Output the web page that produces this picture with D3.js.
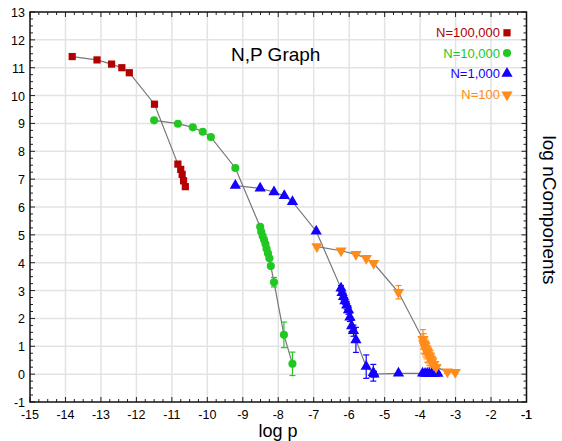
<!DOCTYPE html>
<html>
<head>
<meta charset="utf-8">
<title>N,P Graph</title>
<style>
body { margin: 0; background: #fff; }
text { font-family: "Liberation Sans", Arial, Helvetica, sans-serif; }
</style>
</head>
<body>
<div id="graphic"></div>
<script src="https://cdn.jsdelivr.net/npm/d3@7/dist/d3.min.js"></script>
<script>
var w = 562, h = 441;

// N=100,000
var redX = [-13.81, -13.11, -12.70, -12.41, -12.20, -11.49, -10.83, -10.75, -10.71, -10.67, -10.62];
var redY = [11.40, 11.28, 11.13, 11.00, 10.82, 9.69, 7.54, 7.35, 7.17, 6.94, 6.73];
var redE = [0, 0, 0, 0, 0, 0, 0, 0, 0, 0, 0];

// N=10,000
var greenX = [-11.50, -10.83, -10.41, -10.13, -9.90, -9.21, -8.51, -8.48, -8.44, -8.40, -8.36, -8.33, -8.29, -8.25, -8.21, -8.12, -7.84, -7.60];
var greenY = [9.11, 8.99, 8.86, 8.70, 8.51, 7.40, 5.29, 5.11, 4.96, 4.82, 4.67, 4.50, 4.34, 4.16, 3.88, 3.30, 1.41, 0.37];
var greenE = [0, 0, 0, 0, 0, 0, 0, 0, 0, 0, 0, 0, 0, 0, 0, 0.17, 0.46, 0.42];

// N=1,000
var blueX = [-9.21, -8.51, -8.12, -7.83, -7.60, -6.93, -6.23, -6.20, -6.16, -6.12, -6.07, -6.02, -5.98, -5.93, -5.88, -5.81, -5.52, -5.32, -5.30, -4.61, -3.93, -3.86, -3.80, -3.74, -3.67, -3.60, -3.50];
var blueY = [6.77, 6.67, 6.54, 6.40, 6.19, 5.13, 3.08, 2.92, 2.78, 2.63, 2.47, 2.30, 2.04, 1.73, 1.56, 1.23, 0.27, 0.05, 0.00, 0.03, 0.03, 0.02, 0.02, 0.02, 0.02, 0.02, 0.02];
var blueE = [0, 0, 0, 0, 0, 0, 0.1, 0.1, 0.12, 0.12, 0.14, 0.15, 0.15, 0.2, 0.2, 0.45, 0.42, 0.3, 0.1, 0, 0, 0, 0, 0, 0, 0, 0];

// N=100
var orangeX = [-6.91, -6.23, -5.81, -5.52, -5.31, -4.61, -3.92, -3.90, -3.87, -3.85, -3.82, -3.80, -3.77, -3.74, -3.71, -3.67, -3.62, -3.55, -3.23, -3.01];
var orangeY = [4.58, 4.43, 4.30, 4.16, 3.98, 2.94, 1.25, 1.10, 1.00, 0.92, 0.85, 0.78, 0.70, 0.62, 0.55, 0.45, 0.35, 0.25, 0.09, 0.07];
var orangeE = [0, 0, 0, 0, 0, 0.24, 0.35, 0.35, 0.3, 0.3, 0.3, 0.35, 0.3, 0.3, 0.3, 0.3, 0.25, 0.2, 0.06, 0.06];

var seriesNames = ["N=100,000", "N=10,000", "N=1,000", "N=100"];
var seriesColors = ["#b30000", "#22c822", "#1400ff", "#ff8c1a"];
var seriesShapes = ["square", "circle", "up", "down"];

var xTicks = d3.range(-15, 0, 1);
var yTicks = d3.range(-1, 14, 1);

var series = [
    {x: redX, y: redY, e: redE},
    {x: greenX, y: greenY, e: greenE},
    {x: blueX, y: blueY, e: blueE},
    {x: orangeX, y: orangeY, e: orangeE}
];

var pLeft = 30, pRight = 526.5, pTop = 12, pBottom = 402;

var x = d3.scaleLinear().domain([-15, -1]).range([pLeft, pRight]);
var y = d3.scaleLinear().domain([-1, 13]).range([pBottom, pTop]);

var svg = d3.select("#graphic")
    .append("svg")
    .attr("width", w)
    .attr("height", h);

// grid
svg.append("g")
    .selectAll("line")
    .data(xTicks.slice(1))
    .enter().append("line")
    .attr("x1", function(d) { return x(d); })
    .attr("x2", function(d) { return x(d); })
    .attr("y1", pTop).attr("y2", pBottom)
    .attr("stroke", "#e3e3e3").attr("stroke-width", 1.5);

svg.append("g")
    .selectAll("line")
    .data(yTicks.slice(1, -1))
    .enter().append("line")
    .attr("y1", function(d) { return y(d); })
    .attr("y2", function(d) { return y(d); })
    .attr("x1", pLeft).attr("x2", pRight)
    .attr("stroke", "#e3e3e3").attr("stroke-width", 1.5);

// inner ticks on all four sides
var xMinor = d3.range(-15, -0.99, 0.25);
var yMinor = d3.range(-1, 13.01, 0.25);

function isMajor(v) { return Math.abs(v - Math.round(v)) < 1e-6; }

var ticks = svg.append("g").attr("stroke", "#222").attr("stroke-width", 1);
xMinor.forEach(function(v) {
    var len = isMajor(v) ? 5 : 3;
    ticks.append("line").attr("x1", x(v)).attr("x2", x(v)).attr("y1", pBottom).attr("y2", pBottom - len);
    ticks.append("line").attr("x1", x(v)).attr("x2", x(v)).attr("y1", pTop).attr("y2", pTop + len);
});
yMinor.forEach(function(v) {
    var len = isMajor(v) ? 5 : 3;
    ticks.append("line").attr("y1", y(v)).attr("y2", y(v)).attr("x1", pLeft).attr("x2", pLeft + len);
    ticks.append("line").attr("y1", y(v)).attr("y2", y(v)).attr("x1", pRight).attr("x2", pRight - len);
});

// frame
svg.append("rect")
    .attr("x", pLeft).attr("y", pTop)
    .attr("width", pRight - pLeft).attr("height", pBottom - pTop)
    .attr("fill", "none").attr("stroke", "#111").attr("stroke-width", 1.5);

// tick labels
svg.append("g")
    .selectAll("text")
    .data(xTicks.concat([-1]))
    .enter().append("text")
    .attr("x", function(d) { return x(d); })
    .attr("y", 419)
    .attr("text-anchor", "middle")
    .attr("font-size", 12.5)
    .text(function(d) { return d; });

svg.append("g")
    .selectAll("text")
    .data(yTicks)
    .enter().append("text")
    .attr("x", 25)
    .attr("y", function(d) { return y(d) + 5; })
    .attr("text-anchor", "end")
    .attr("font-size", 12.5)
    .text(function(d) { return d; });

// lines
var line = d3.line()
    .x(function(d) { return x(d[0]); })
    .y(function(d) { return y(d[1]); });

series.forEach(function(s) {
    var pts = s.x.map(function(v, i) { return [v, s.y[i]]; });
    svg.append("path")
        .attr("d", line(pts))
        .attr("fill", "none")
        .attr("stroke", "#777")
        .attr("stroke-width", 1.2);
});

// error bars
series.forEach(function(s, k) {
    var g = svg.append("g").attr("stroke", seriesColors[k]).attr("stroke-width", 1.2);
    s.x.forEach(function(v, i) {
        if (!s.e[i]) return;
        var cx = x(v), y0 = y(s.y[i] - s.e[i]), y1 = y(s.y[i] + s.e[i]);
        g.append("line").attr("x1", cx).attr("x2", cx).attr("y1", y0).attr("y2", y1);
        g.append("line").attr("x1", cx - 3).attr("x2", cx + 3).attr("y1", y0).attr("y2", y0);
        g.append("line").attr("x1", cx - 3).attr("x2", cx + 3).attr("y1", y1).attr("y2", y1);
    });
});

function symbolFor(shape) {
    if (shape === "square") return d3.symbol().type(d3.symbolSquare).size(52);
    if (shape === "circle") return d3.symbol().type(d3.symbolCircle).size(52);
    return d3.symbol().type(d3.symbolTriangle).size(55);
}

function placeMarker(sel, shape, cx, cy) {
    sel.attr("d", symbolFor(shape)())
        .attr("transform", "translate(" + cx + "," + cy + ")" + (shape === "down" ? " rotate(180)" : ""));
}

// markers
series.forEach(function(s, k) {
    var g = svg.append("g").attr("fill", seriesColors[k]);
    s.x.forEach(function(v, i) {
        placeMarker(g.append("path"), seriesShapes[k], x(v), y(s.y[i]));
    });
});

// legend
var legendY = [37.3, 57.5, 78, 99.3];
seriesNames.forEach(function(name, k) {
    svg.append("text")
        .attr("x", 500)
        .attr("y", legendY[k])
        .attr("text-anchor", "end")
        .attr("font-size", 13)
        .attr("fill", seriesColors[k])
        .text(name);
    placeMarker(svg.append("path").attr("fill", seriesColors[k]), seriesShapes[k], 507, legendY[k] - 4.5);
});

// titles
svg.append("text")
    .attr("x", 231).attr("y", 61)
    .attr("font-size", 19)
    .text("N,P Graph");

svg.append("text")
    .attr("x", 278).attr("y", 437)
    .attr("text-anchor", "middle")
    .attr("font-size", 18)
    .text("log p");

svg.append("text")
    .attr("transform", "translate(543,210) rotate(90)")
    .attr("text-anchor", "middle")
    .attr("font-size", 19)
    .text("log nComponents");
</script>
</body>
</html>
